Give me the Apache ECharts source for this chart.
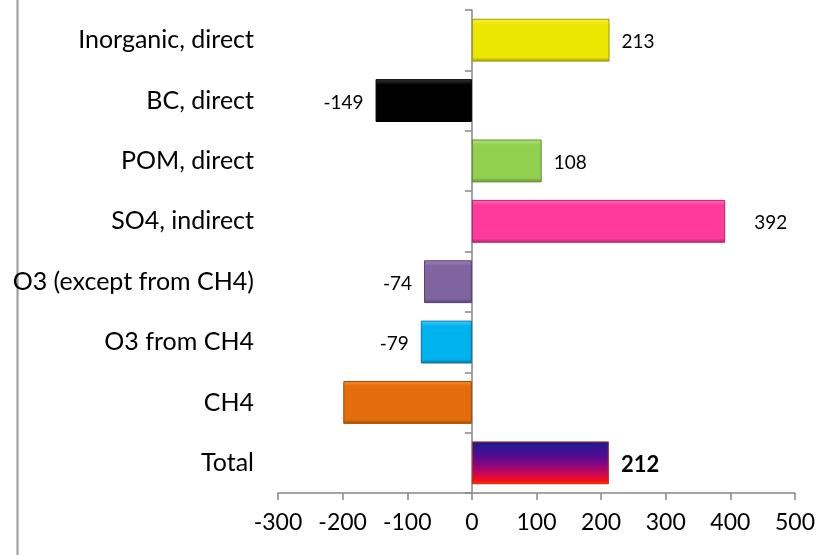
<!DOCTYPE html>
<html>
<head>
<meta charset="utf-8">
<script src="https://cdn.jsdelivr.net/npm/echarts@6/dist/echarts.min.js"></script>
<style>
  html, body { margin: 0; padding: 0; background: #ffffff; }
  #chart { width: 828px; height: 555px; }
</style>
</head>
<body>
<div id="chart"></div>
<script>
// Forcing contributions by component (top to bottom)
const categories = [
  'Inorganic, direct',
  'BC, direct',
  'POM, direct',
  'SO4, indirect',
  'O3 (except from CH4)',
  'O3 from CH4',
  'CH4',
  'Total'
];
const values = [213, -149, 108, 392, -74, -79, -199, 212];
// Which bars carry a printed value
const showValue = [true, true, true, true, true, true, false, true];
const axisTicks = { min: -300, max: 500, interval: 100 };

// Base colour, top highlight and edge colour for each bar
const palette = [
  { base: '#ECE700', light: '#F6F24A', edge: '#A09C00' },
  { base: '#000000', light: '#3A3A3A', edge: '#000000' },
  { base: '#92D050', light: '#B2E57E', edge: '#5E8C2C' },
  { base: '#FF3A9C', light: '#FF6DB6', edge: '#B0256B' },
  { base: '#8064A2', light: '#9D85BC', edge: '#54406E' },
  { base: '#00B2EE', light: '#3FD0FF', edge: '#0A739E' },
  { base: '#E46C0A', light: '#F78C30', edge: '#A24D05' },
  null
];

const FONT = 'Lato, "Open Sans", sans-serif';

function bevel(p) {
  return {
    type: 'linear', x: 0, y: 0, x2: 0, y2: 1,
    colorStops: [
      { offset: 0, color: p.light },
      { offset: 0.13, color: p.base },
      { offset: 0.9, color: p.base },
      { offset: 1, color: p.edge }
    ]
  };
}

const totalFill = {
  type: 'linear', x: 0, y: 0, x2: 0, y2: 1,
  colorStops: [
    { offset: 0, color: '#1B1B8E' },
    { offset: 0.3, color: '#4A0E94' },
    { offset: 0.55, color: '#8A0680' },
    { offset: 0.8, color: '#D9084A' },
    { offset: 0.93, color: '#FF1010' },
    { offset: 1, color: '#FF4A00' }
  ]
};

const barData = values.map(function (v, i) {
  const isTotal = i === categories.length - 1;
  const p = palette[i];
  return {
    value: v,
    itemStyle: {
      color: isTotal ? totalFill : bevel(p),
      borderColor: isTotal ? '#B03010' : p.edge,
      borderWidth: 1
    },
    label: {
      show: showValue[i],
      position: v >= 0 ? 'right' : 'left',
      distance: v === 392 ? 29 : 12,
      offset: [0, 2],
      fontSize: isTotal ? 22 : 19,
      fontWeight: isTotal ? 'bold' : 'normal',
      color: '#000000',
      fontFamily: FONT
    }
  };
});

const chart = echarts.init(document.getElementById('chart'), null, { renderer: 'canvas' });

chart.setOption({
  animation: false,
  backgroundColor: '#ffffff',
  grid: { left: 278, right: 33, top: 10, bottom: 62, containLabel: false },
  xAxis: {
    type: 'value',
    min: axisTicks.min,
    max: axisTicks.max,
    interval: axisTicks.interval,
    axisLine: { show: true, lineStyle: { color: '#868686', width: 1.5 } },
    axisTick: { show: true, length: 7, lineStyle: { color: '#868686', width: 1.5 } },
    splitLine: { show: false },
    axisLabel: { fontSize: 23, color: '#000000', margin: 18, fontFamily: FONT }
  },
  yAxis: [
    {
      // category names on the left edge of the plot
      type: 'category',
      data: categories,
      inverse: true,
      axisLine: { show: false, onZero: false },
      axisTick: { show: false },
      axisLabel: { fontSize: 25, color: '#000000', margin: 24, fontFamily: FONT }
    },
    {
      // the vertical axis line that sits at zero
      type: 'category',
      data: categories,
      inverse: true,
      position: 'left',
      axisLine: { show: true, onZero: true, lineStyle: { color: '#868686', width: 1.5 } },
      axisTick: { show: true, length: 7, lineStyle: { color: '#868686', width: 1.5 } },
      axisLabel: { show: false }
    }
  ],
  series: [{
    type: 'bar',
    yAxisIndex: 0,
    barCategoryGap: '29%',
    data: barData
  }],
  graphic: [{
    type: 'line',
    shape: { x1: 17.5, y1: 0, x2: 17.5, y2: 555 },
    style: { stroke: '#9A9A9A', lineWidth: 2 },
    silent: true
  }]
});
</script>
</body>
</html>
